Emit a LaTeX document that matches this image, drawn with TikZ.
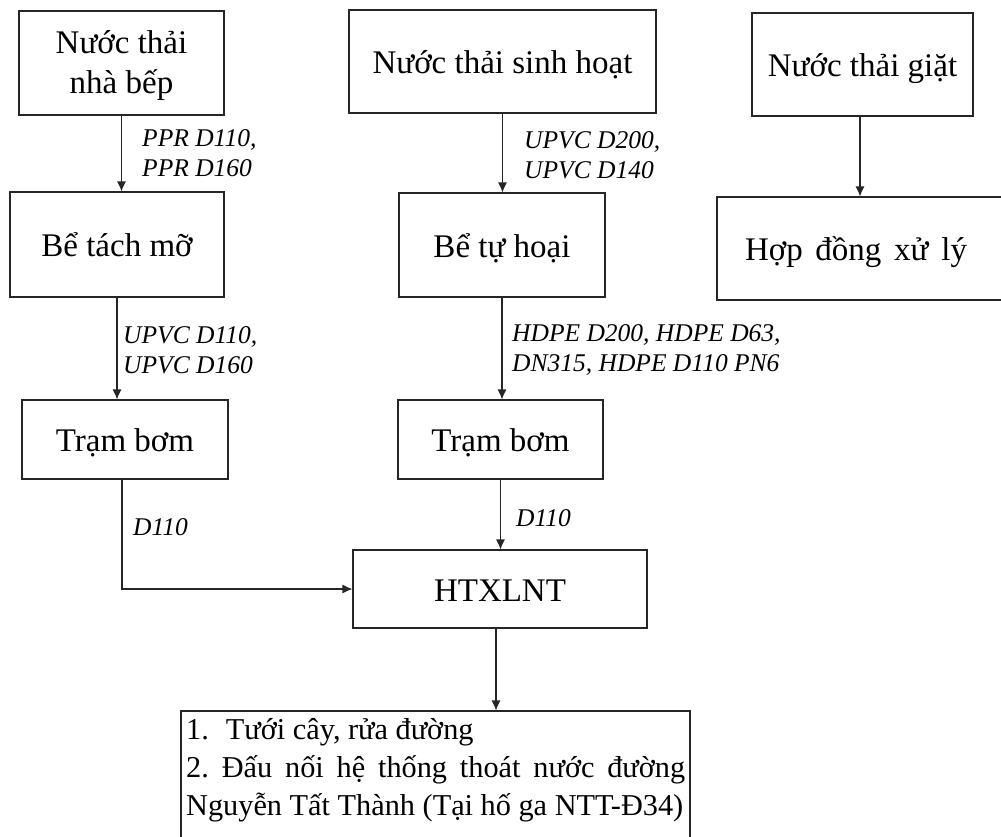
\documentclass[tikz,border=0pt]{standalone}
\usepackage{fontspec}
\setmainfont{Liberation Serif}
\usetikzlibrary{arrows.meta}

\begin{document}
\begin{tikzpicture}[x=1pt,y=-1pt,
  box/.style={draw=black!85, line width=1.1pt, inner sep=0pt, font=\fontsize{33}{40}\selectfont},
  onebox/.style={box, text height=26.5pt, text depth=2pt},
  pipe/.style={draw=black!85, line width=1.1pt, -{Latex[length=10pt,width=9pt]}},
  tag/.style={inner sep=0pt, anchor=west, align=left, font=\fontsize{25.5}{30}\selectfont\itshape},
  line/.style={inner sep=0pt, anchor=base west, font=\fontsize{30.3}{38}\selectfont\frenchspacing}]
\useasboundingbox (0,0) rectangle (1001,836);

%% left column
\node[box, align=center, text height=62.5pt, text depth=2pt, minimum width=205pt, minimum height=104pt] (kitchen) at (121.5,63) {Nước thải\\nhà bếp};
\node[onebox, minimum width=214pt, minimum height=105pt] (grease) at (117,244.5) {Bể tách mỡ};
\node[onebox, minimum width=206pt, minimum height=79pt] (pumpA) at (125,439.5) {Trạm bơm};

%% middle column
\node[onebox, minimum width=307pt, minimum height=103pt] (domestic) at (502.5,61.5) {Nước thải sinh hoạt};
\node[onebox, minimum width=206pt, minimum height=104pt] (septic) at (502,245) {Bể tự hoại};
\node[onebox, minimum width=205pt, minimum height=79pt] (pumpB) at (500.5,439.5) {Trạm bơm};
\node[onebox, minimum width=294pt, minimum height=78pt] (htxlnt) at (500,589) {HTXLNT};

%% right column
\node[onebox, minimum width=221pt, minimum height=103pt] (laundry) at (862.5,64.5) {Nước thải giặt};
\node[onebox, minimum width=290pt, minimum height=103pt] (contract) at (862,248.5) {\makebox[222pt][s]{Hợp đồng xử lý}\hspace*{12pt}};

%% reuse / discharge
\node[draw=black!85, line width=1.1pt, inner sep=0pt, minimum width=509pt, minimum height=132pt] (reuse) at (435.5,777) {};
\node[line] (reuse1) at (186,739) {1.\hspace{17pt}Tưới cây, rửa đường};
\node[line] (reuse2) at (186,777) {\makebox[499pt][s]{2. Đấu nối hệ thống thoát nước đường}};
\node[line] (reuse3) at (186,815) {Nguyễn Tất Thành (Tại hố ga NTT-Đ34)};

%% pipes
\draw[pipe] (kitchen.south) -- (kitchen.south |- grease.north); %%Kitchen
\draw[pipe] (grease.south) -- (grease.south |- pumpA.north); %%Grease
\draw[pipe] ([xshift=-3pt]pumpA.south) |- (htxlnt.west); %%PumpA
\draw[pipe] (domestic.south) -- (domestic.south |- septic.north); %%Domestic
\draw[pipe] (septic.south) -- (septic.south |- pumpB.north); %%Septic
\draw[pipe] (pumpB.south) -- (pumpB.south |- htxlnt.north); %%PumpB
\draw[pipe] ([xshift=-4pt]htxlnt.south) -- ([xshift=-4pt]htxlnt.south |- reuse.north); %%Out
\draw[pipe] ([xshift=-2.5pt]laundry.south) -- ([xshift=-2.5pt]laundry.south |- contract.north); %%Laundry

%% pipe labels
\node[tag] (tagA) at (142,153) {PPR D110,\\PPR D160};
\node[tag] (tagB) at (123,350) {UPVC D110,\\UPVC D160};
\node[tag] (tagC) at (133,527) {D110};
\node[tag] (tagD) at (524,155) {UPVC D200,\\UPVC D140};
\node[tag] (tagE) at (512,350) {HDPE D200, HDPE D63,\\DN315, HDPE D110 PN6};
\node[tag] (tagF) at (516,518) {D110};

\end{tikzpicture}
\end{document}
